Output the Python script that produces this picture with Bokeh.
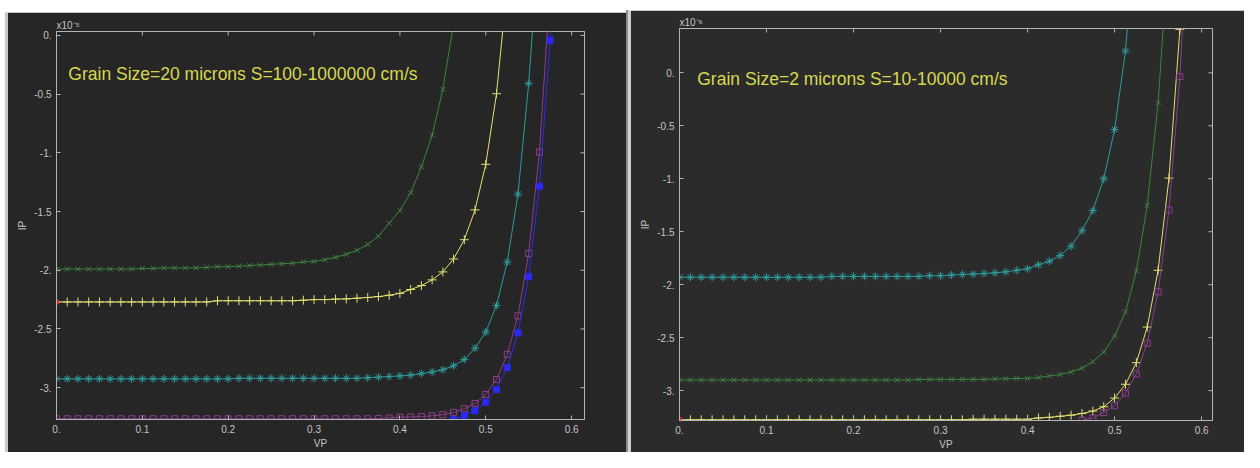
import math
from bokeh.plotting import figure
from bokeh.models import Range1d, FixedTicker, CustomJSTickFormatter, Label, Spacer
from bokeh.layouts import row, column
from bokeh.embed import file_html
from bokeh.resources import INLINE

# ---------------- data ----------------
vp = [0.0, 0.0125, 0.025, 0.0375, 0.05, 0.0625, 0.075, 0.0875, 0.1, 0.1125,
      0.125, 0.1375, 0.15, 0.1625, 0.175, 0.1875, 0.2, 0.2125, 0.225, 0.2375,
      0.25, 0.2625, 0.275, 0.2875, 0.3, 0.3125, 0.325, 0.3375, 0.35, 0.3625,
      0.375, 0.3875, 0.4, 0.4125, 0.425, 0.4375, 0.45, 0.4625, 0.475, 0.4875,
      0.5, 0.5125, 0.525, 0.5375, 0.55, 0.5625, 0.575, 0.5875]

# Left panel: Grain Size = 20 microns (IP in units of 1e-5)
left_green = [-1.99, -1.99, -1.99, -1.99, -1.99, -1.99, -1.99, -1.99, -1.985, -1.985,
              -1.98, -1.98, -1.98, -1.98, -1.975, -1.97, -1.97, -1.965, -1.96, -1.955,
              -1.95, -1.945, -1.94, -1.93, -1.925, -1.91, -1.89, -1.865, -1.83, -1.78,
              -1.71, -1.60, -1.49, -1.34, -1.12, -0.85, -0.46, 0.10]
left_yellow = [-2.27] * 15 + [-2.26] * 8 + [
    -2.255, -2.25, -2.25, -2.246, -2.244, -2.238, -2.232, -2.224, -2.213, -2.197,
    -2.164, -2.131, -2.082, -2.014, -1.904, -1.74, -1.486, -1.098, -0.497, 0.43]
left_teal = [-2.925] * 17 + [-2.92] * 12 + [
    -2.915, -2.91, -2.905, -2.90, -2.893, -2.88, -2.866, -2.847, -2.814, -2.76,
    -2.664, -2.527, -2.30, -1.93, -1.352, -0.41, 0.85]
left_purple = [-3.265] * 30 + [
    -3.262, -3.258, -3.25, -3.249, -3.246, -3.24, -3.23, -3.21, -3.18, -3.134,
    -3.057, -2.93, -2.716, -2.388, -1.858, -0.994, 0.41]
left_blue_start = 37
left_blue = [-3.27, -3.238, -3.197, -3.125, -3.016, -2.83, -2.533, -2.055, -1.284,
             -0.041, 1.96]
left_red = [-2.27]

# Right panel: Grain Size = 2 microns (IP in units of 1e-6)
right_teal = [-1.93] * 14 + [-1.922] * 9 + [
    -1.915, -1.915, -1.909, -1.903, -1.90, -1.894, -1.888, -1.879, -1.864, -1.85,
    -1.812, -1.779, -1.724, -1.636, -1.49, -1.30, -1.0, -0.536, 0.206, 1.4]
right_green = [-2.9] * 22 + [-2.895] + [-2.894] * 6 + [
    -2.89, -2.888, -2.885, -2.885, -2.876, -2.861, -2.848, -2.824, -2.788, -2.727,
    -2.636, -2.485, -2.257, -1.87, -1.252, -0.282, 1.22]
right_yellow = [-3.275] * 27 + [-3.27] * 6 + [
    -3.258, -3.252, -3.242, -3.232, -3.216, -3.193, -3.152, -3.07, -2.94, -2.736,
    -2.40, -1.864, -0.994, 0.41]
right_purple_start = 37
right_purple = [-3.279, -3.258, -3.206, -3.143, -3.024, -2.842, -2.552, -2.067,
                -1.294, -0.036, 1.96]
right_red = [-3.275]

x_ticks = [0.0, 0.1, 0.2, 0.3, 0.4, 0.5, 0.6]
y_ticks = [-3.0, -2.5, -2.0, -1.5, -1.0, -0.5, 0.0]

title_left = "Grain Size=20 microns S=100-1000000 cm/s"
title_right = "Grain Size=2 microns S=10-10000 cm/s"
mult_left = "x10\u207b\u2075"
mult_right = "x10\u207b\u2076"

# ---------------- styles ----------------
AXIS = "#b4b4b4"
TICKTXT = "#c4c4c4"
FONT = "Liberation Sans"
C_GREEN = "#3f843f"
C_YELLOW = "#e2e274"
C_TEAL = "#2e9c9c"
C_PURPLE = "#8e3e8e"
C_BLUE = "#2a2af2"
C_RED = "#e02828"
C_TEXT = "#d8d850"

fmt_code = """
const r = Math.round(tick * 10) / 10;
if (Math.abs(r - Math.round(r)) < 1e-9) { return Math.round(r).toString() + "."; }
return r.toFixed(1);
"""


def style_axis(ax, ticks):
    ax.ticker = FixedTicker(ticks=ticks)
    ax.axis_line_color = AXIS
    ax.major_tick_line_color = AXIS
    ax.major_tick_in = 4
    ax.major_tick_out = 0
    ax.minor_tick_line_color = None
    ax.formatter = CustomJSTickFormatter(code=fmt_code)
    ax.major_label_text_color = TICKTXT
    ax.major_label_text_font = FONT
    ax.major_label_text_font_size = "10px"
    ax.major_label_standoff = 5
    ax.axis_label_text_font = FONT
    ax.axis_label_text_font_size = "10px"
    ax.axis_label_text_font_style = "normal"
    ax.axis_label_text_color = TICKTXT


def make_fig(width, height, xr, yr, bg, bl, br, bt, bb, mult):
    p = figure(width=width, height=height, x_range=Range1d(*xr), y_range=Range1d(*yr),
               output_backend="svg", toolbar_location=None,
               min_border_left=bl, min_border_right=br, min_border_top=bt,
               min_border_bottom=bb)
    p.background_fill_color = bg
    p.border_fill_color = bg
    p.outline_line_color = AXIS
    p.grid.visible = False
    style_axis(p.xaxis[0], x_ticks)
    style_axis(p.yaxis[0], y_ticks)
    p.xaxis[0].axis_label = "VP"
    p.xaxis[0].axis_label_standoff = 2
    p.yaxis[0].axis_label = "IP"
    p.yaxis[0].axis_label_standoff = 3
    p.title.text = mult
    p.title.align = "left"
    p.title.text_font = FONT
    p.title.text_font_size = "10px"
    p.title.text_font_style = "normal"
    p.title.text_color = TICKTXT
    p.title.standoff = 1
    # inward tick marks on the top and right frame edges (outer half is clipped)
    p.scatter(x_ticks, [yr[1]] * len(x_ticks), marker="dash", angle=math.pi / 2,
              size=8, line_color=AXIS, line_width=1)
    p.scatter([xr[1]] * len(y_ticks), y_ticks, marker="dash", size=8,
              line_color=AXIS, line_width=1)
    return p


def curve(p, x, y, color, marker, size, filled=False):
    p.line(x, y, line_color=color, line_width=1)
    p.scatter(x, y, marker=marker, size=size, line_color=color, line_width=1,
              fill_color=color if filled else None)


def add_text(p, x, y, text, size, color):
    p.add_layout(Label(x=x, y=y, text=text, text_font=FONT, text_font_size=size,
                       text_color=color, text_align="left", text_baseline="middle"))


# ---------------- left panel ----------------
p1 = make_fig(619, 440, (0.0, 0.615), (-3.271, 0.033), "#262626", 49, 42, 19, 33,
              mult_left)
curve(p1, vp[:len(left_green)], left_green, C_GREEN, "x", 7)
curve(p1, vp[:len(left_yellow)], left_yellow, C_YELLOW, "cross", 9)
curve(p1, vp[:len(left_teal)], left_teal, C_TEAL, "asterisk", 8)
curve(p1, vp[:len(left_purple)], left_purple, C_PURPLE, "square", 6)
curve(p1, vp[left_blue_start:left_blue_start + len(left_blue)], left_blue, C_BLUE,
      "square", 6, filled=True)
p1.scatter(vp[:1], left_red, marker="circle", size=5, line_color=C_RED, fill_color=C_RED)
add_text(p1, 0.0138, -0.328, title_left, "17.5px", C_TEXT)

# ---------------- right panel ----------------
p2 = make_fig(614, 442, (0.0, 0.6125), (-3.282, 0.418), "#2b2b2b", 49, 32, 18, 31,
              mult_right)
curve(p2, vp[:len(right_teal)], right_teal, C_TEAL, "asterisk", 8)
curve(p2, vp[:len(right_green)], right_green, C_GREEN, "x", 7)
curve(p2, vp[:len(right_yellow)], right_yellow, C_YELLOW, "cross", 9)
curve(p2, vp[right_purple_start:right_purple_start + len(right_purple)], right_purple,
      C_PURPLE, "square", 6)
p2.scatter(vp[:1], right_red, marker="circle", size=5, line_color=C_RED, fill_color=C_RED)
add_text(p2, 0.0204, -0.055, title_right, "17.5px", C_TEXT)

# ---------------- layout ----------------
edge = row(Spacer(width=5, height=452),
           column(Spacer(width=2, height=12),
                  Spacer(width=2, height=440, styles={"background-color": "#c8c8c8"})))
left_col = column(Spacer(width=619, height=12), p1)
divider = column(Spacer(width=4, height=10),
                 row(Spacer(width=2, height=442, styles={"background-color": "#8a8a8a"}),
                     Spacer(width=2, height=442, styles={"background-color": "#d2d2d2"})))
right_col = column(Spacer(width=614, height=10), p2)
layout = row(edge, left_col, divider, right_col)

open("out.html", "w").write(file_html(layout, INLINE))
